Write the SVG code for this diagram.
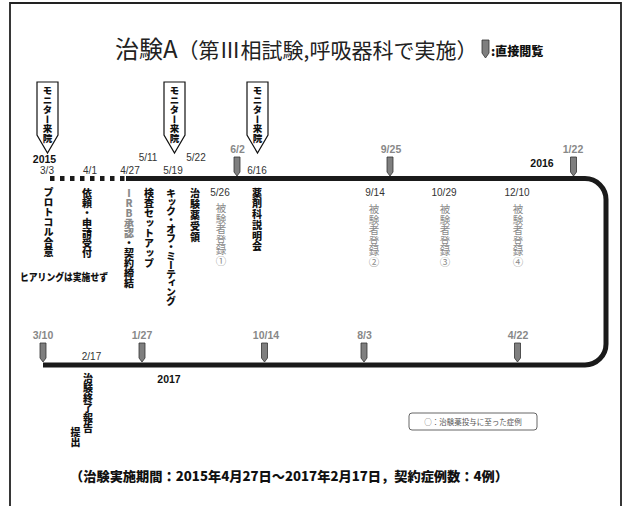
<svg xmlns="http://www.w3.org/2000/svg" xmlns:xlink="http://www.w3.org/1999/xlink" width="624" height="506" viewBox="0 0 624 506">
<defs>
<style>
.date{font-family:"Liberation Sans",Arial,sans-serif;font-size:10px;fill:#333;text-anchor:middle}
.mk{font-family:"Liberation Sans",Arial,sans-serif;font-weight:bold;font-size:10.5px;fill:#888;text-anchor:middle}
.yr{font-family:"Liberation Sans",Arial,sans-serif;font-weight:bold;font-size:10.5px;fill:#111;text-anchor:middle}
.vb{font-family:"Noto Sans CJK JP",sans-serif;font-weight:900;font-size:10px;writing-mode:vertical-rl;fill:#111}
.vg{font-family:"Noto Sans CJK JP",sans-serif;font-weight:400;font-size:10.5px;writing-mode:vertical-rl;fill:#8a8a8a}
.flag{fill:#fff;stroke:#111;stroke-width:1.2}
.ft{font-family:"Noto Sans CJK JP",sans-serif;font-weight:900;font-size:9.5px;writing-mode:vertical-rl;fill:#111}
.pen{fill:#7f7f7f;stroke:#333;stroke-width:0.8}
.sq{fill:#1a1a1a}
</style>
<path id="pen" class="pen" d="M-3,0 H3 V15 L0,19 L-3,15 Z"/>
</defs>
<rect width="624" height="506" fill="#fff"/>
<path d="M10,506 V3 H621 V506" fill="none" stroke="#222" stroke-width="1.8"/>

<g id="title">
<text x="115" y="58" font-family="'Noto Sans CJK JP',sans-serif" fill="#222"><tspan font-size="24">治験A</tspan><tspan font-size="21">（第Ⅲ相試験,呼吸器科で実施）</tspan></text>
<path class="pen" d="M482,40 H489 V53 L485.5,58 L482,53 Z"/>
<text x="491" y="56" font-family="'Noto Sans CJK JP',sans-serif" font-weight="900" font-size="12" fill="#111">:直接閲覧</text>
</g>

<g id="connectors">
<rect class="sq" x="50" y="176" width="4.5" height="5"/>
<rect class="sq" x="60" y="176" width="4.5" height="5"/>
<rect class="sq" x="70" y="176" width="4.5" height="5"/>
<rect class="sq" x="80" y="176" width="4.5" height="5"/>
<rect class="sq" x="90" y="176" width="4.5" height="5"/>
<rect class="sq" x="100" y="176" width="4.5" height="5"/>
<rect class="sq" x="110" y="176" width="4.5" height="5"/>
<rect class="sq" x="120" y="176" width="4.5" height="5"/>
<path d="M126,178.5 H585 A21,21 0 0 1 606,199.5 V344 A21,21 0 0 1 585,365 H43" fill="none" stroke="#1a1a1a" stroke-width="5"/>
</g>

<g id="flag1"><path class="flag" d="M37,82 H58 V135 L47.5,153 L37,135 Z"/><text class="ft" x="47.5" y="86">モニター来院</text></g>
<g id="flag2"><path class="flag" d="M164,82 H185 V135 L174.5,153 L164,135 Z"/><text class="ft" x="174.5" y="86">モニター来院</text></g>
<g id="flag3"><path class="flag" d="M247,82 H268 V135 L257.5,153 L247,135 Z"/><text class="ft" x="257.5" y="86">モニター来院</text></g>

<g id="y2015"><text class="yr" x="44.5" y="162.5">2015</text></g>
<g id="d0303"><text class="date" x="47" y="173.5">3/3</text><text class="vb" x="48.5" y="187">プロトコル合意</text></g>
<g id="d0401"><text class="date" x="90" y="173.5">4/1</text><text class="vb" x="87" y="188">依頼・申請受付</text></g>
<g id="d0427"><text class="date" x="130" y="173.5">4/27</text><text class="vb" x="129" y="188" style="text-orientation:upright"><tspan fill="#8a8a8a">IRB承認</tspan>・契約締結</text></g>
<g id="d0511"><text class="date" x="148" y="161">5/11</text><text class="vb" x="149" y="188">検査セットアップ</text></g>
<g id="d0519"><text class="date" x="173" y="174">5/19</text><text class="vb" x="171" y="188" letter-spacing="-1">キック・オフ・ミーティング</text></g>
<g id="d0522"><text class="date" x="196" y="161">5/22</text><text class="vb" x="195" y="188" letter-spacing="1">治験薬受領</text></g>
<g id="d0526"><text class="date" x="220" y="196">5/26</text><text class="vg" x="221" y="203">被験者登録①</text></g>
<g id="d0602"><text class="mk" x="237.5" y="153">6/2</text><use xlink:href="#pen" x="237" y="157"/></g>
<g id="d0616"><text class="date" x="257" y="174">6/16</text><text class="vb" x="257" y="188" letter-spacing="0.7">薬剤科説明会</text></g>
<g id="hearing"><text x="20" y="281" font-family="'Noto Sans CJK JP',sans-serif" font-weight="900" font-size="10" fill="#111" textLength="88" lengthAdjust="spacingAndGlyphs">ヒアリングは実施せず</text></g>

<g id="d0914"><text class="date" x="375" y="196">9/14</text><text class="vg" x="374" y="204">被験者登録②</text></g>
<g id="d0925"><text class="mk" x="391" y="153">9/25</text><use xlink:href="#pen" x="390" y="157"/></g>
<g id="d1029"><text class="date" x="444" y="196">10/29</text><text class="vg" x="445" y="204">被験者登録③</text></g>
<g id="d1210"><text class="date" x="517" y="196">12/10</text><text class="vg" x="518" y="204">被験者登録④</text></g>
<g id="y2016"><text class="yr" x="542" y="167">2016</text></g>
<g id="d0122"><text class="mk" x="573" y="153">1/22</text><use xlink:href="#pen" x="573.5" y="157"/></g>

<g id="d0310"><text class="mk" x="43" y="339">3/10</text><use xlink:href="#pen" x="43" y="343"/></g>
<g id="d0217"><text class="date" x="91.5" y="360">2/17</text><text class="vb" x="88" y="373">治験終了報告</text><text class="vb" x="75.5" y="427">提出</text></g>
<g id="d0127"><text class="mk" x="142" y="339">1/27</text><use xlink:href="#pen" x="142" y="343"/></g>
<g id="y2017"><text class="yr" x="169" y="383">2017</text></g>
<g id="d1014"><text class="mk" x="266" y="339">10/14</text><use xlink:href="#pen" x="264.5" y="343"/></g>
<g id="d0803"><text class="mk" x="364.5" y="339">8/3</text><use xlink:href="#pen" x="364" y="343"/></g>
<g id="d0422"><text class="mk" x="518" y="339">4/22</text><use xlink:href="#pen" x="517.5" y="343"/></g>

<g id="legend"><rect x="409" y="413" width="128" height="17" rx="3" fill="#fff" stroke="#555" stroke-width="0.9"/><text x="473" y="424.5" text-anchor="middle" font-family="'Noto Sans CJK JP',sans-serif" font-size="7.5" fill="#555">○：治験薬投与に至った症例</text></g>

<g id="footer"><text x="70" y="481" font-family="'Noto Sans CJK JP',sans-serif" font-weight="900" font-size="13" fill="#111" textLength="438" lengthAdjust="spacingAndGlyphs">（治験実施期間：2015年4月27日～2017年2月17日，契約症例数：4例）</text></g>
</svg>
